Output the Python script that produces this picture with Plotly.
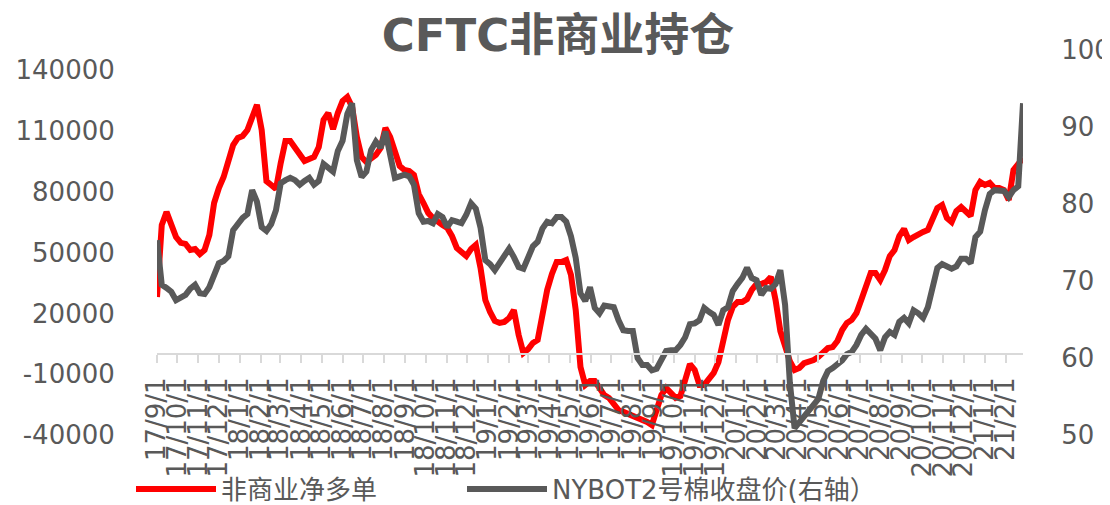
import pandas as pd
import plotly.graph_objects as go

# ---- data -------------------------------------------------------------
start_date = "2017-09-01"
n_weeks = 183
dates = pd.date_range(start_date, periods=n_weeks, freq="7D")

series_names = ["非商业净多单", "NYBOT2号棉收盘价(右轴）"]

net_long = [
    28100, 63600, 70100, 63600, 57700, 54800, 54300, 51300, 51800, 49300,
    51300, 58700, 74500, 81900, 87300, 95200, 103100, 106600, 107600, 110500,
    117400, 122900, 110500, 85300, 83400, 81400, 94200, 105100, 105100, 101600,
    97700, 95200, 96200, 97200, 102100, 115500, 118900, 111000, 118900, 124800,
    126800, 121900, 107100, 97200, 94700, 96200, 98200, 101600, 111500, 107100,
    100600, 92800, 90800, 90300, 88300, 78900, 74500, 69600, 67100, 65100,
    63600, 62200, 58200, 52300, 49800, 48300, 51800, 53800, 42400, 26600,
    20700, 16300, 15300, 15800, 17700, 21700, 9400, 500, 2400, 5400,
    6900, 21200, 31600, 39500, 45400, 45400, 46400, 39000, 21700, -6400,
    -15300, -13400, -13400, -16800, -20300, -21700, -24200, -27700, -28600, -29600,
    -30100, -31600, -32600, -33600, -35100, -27700, -20300, -16800, -18800, -21700,
    -20800, -11900, -5000, -7900, -15300, -15300, -11900, -9400, -4000, 5900,
    16800, 23200, 25600, 25600, 27100, 31600, 34500, 34500, 35500, 38000,
    26600, 11300, 2900, -3500, -7900, -6900, -4500, -4000, -3000, -1500,
    1000, 2900, 3400, 6400, 11800, 15300, 16800, 20200, 26600, 34000,
    39900, 39900, 36500, 41400, 48300, 51300, 58200, 61700, 56200, 57700,
    59200, 60200, 61200, 66100, 72000, 73500, 67100, 65100, 70500, 72500,
    70500, 68100, 80900, 84900, 83400, 84400, 81900, 81900, 80900, 76000,
    90800, 94200, 96700,
]

cotton_price = [
    75.3, 69.5, 69.1, 68.6, 67.5, 67.9, 68.2, 69.0, 69.5, 68.4,
    68.3, 69.2, 71.0, 72.3, 72.6, 73.2, 76.6, 77.5, 78.2, 78.7,
    81.8, 80.3, 77.0, 76.5, 77.4, 79.2, 82.7, 83.1, 83.4, 83.1,
    82.5, 83.0, 83.4, 82.5, 83.0, 85.2, 84.8, 84.2, 86.9, 88.2,
    91.7, 93.1, 85.7, 83.5, 84.2, 87.0, 88.1, 87.3, 89.4, 86.0,
    83.4, 83.6, 83.8, 83.6, 82.5, 78.8, 77.7, 77.8, 77.5, 78.7,
    78.3, 77.0, 77.9, 77.7, 77.5, 78.6, 80.1, 79.4, 76.9, 72.7,
    72.2, 71.4, 72.3, 73.5, 74.2, 73.1, 71.8, 71.6, 72.9, 74.5,
    75.1, 76.8, 77.7, 77.5, 78.3, 78.3, 77.7, 75.8, 73.0, 68.4,
    67.4, 69.2, 66.5, 65.8, 66.8, 66.6, 66.6, 64.9, 63.6, 63.5,
    63.5, 60.0, 59.1, 59.1, 58.4, 58.6, 59.7, 60.9, 61.0, 61.0,
    61.7, 62.7, 64.4, 64.5, 64.9, 66.5, 66.0, 65.6, 64.3, 66.2,
    66.6, 68.7, 69.6, 70.4, 71.7, 70.4, 70.1, 68.2, 69.1, 69.0,
    69.6, 71.4, 66.9, 56.8, 50.9, 51.7, 52.5, 53.0, 53.8, 54.7,
    57.0, 58.3, 58.7, 59.1, 59.7, 60.5, 60.8, 61.7, 63.0, 63.8,
    63.1, 62.5, 61.0, 62.7, 63.4, 63.0, 64.7, 65.2, 64.5, 66.2,
    65.8, 65.2, 66.6, 69.0, 71.7, 72.2, 71.9, 71.6, 71.9, 72.9,
    72.9, 72.3, 75.7, 76.4, 79.2, 81.3, 81.8, 81.8, 81.7, 80.9,
    81.8, 82.3, 93.1,
]

left_tickvals = [-40000, -10000, 20000, 50000, 80000, 110000, 140000]
left_ticktext = ["-40000", "-10000", "20000", "50000", "80000", "110000", "140000"]
right_tickvals = [50, 60, 70, 80, 90, 100]
right_ticktext = ["50", "60", "70", "80", "90", "100"]
left_range = [-40000, 150000]
right_range = [50, 100]

# ---- styling ----------------------------------------------------------
TXT = "#595959"
FONT = "DejaVu Sans, Noto Sans CJK SC, sans-serif"
W, H = 1102, 497   # page body has an 8px margin inside the 1110x505 window

fig = go.Figure()
fig.add_trace(go.Scatter(
    x=dates, y=net_long, name=series_names[0], mode="lines",
    line=dict(color="#FF0000", width=6), yaxis="y", legend="legend",
))
fig.add_trace(go.Scatter(
    x=dates, y=cotton_price, name=series_names[1], mode="lines",
    line=dict(color="#595959", width=6), yaxis="y2", legend="legend2",
))

zero_pos = (0 - left_range[0]) / (left_range[1] - left_range[0])

legend_common = dict(
    orientation="h", xref="container", yref="container",
    xanchor="left", y=1 - 481 / H, yanchor="middle",
    font=dict(family=FONT, size=26, color=TXT),
    itemwidth=80, bgcolor="rgba(0,0,0,0)",
)

fig.update_layout(
    width=W, height=H,
    margin=dict(l=149, r=87, t=42, b=70, autoexpand=False),
    paper_bgcolor="white", plot_bgcolor="white",
    title=dict(
        text="<b>CFTC非商业持仓</b>", x=550 / W, xanchor="center",
        y=1 - 27 / H, yanchor="middle",
        font=dict(family=FONT, size=45, color=TXT),
    ),
    font=dict(family=FONT, color=TXT),
    showlegend=True,
    legend=dict(x=123 / W, **legend_common),
    legend2=dict(x=454 / W, **legend_common),
    xaxis=dict(
        type="date", range=[dates[0], dates[-1]], automargin=False,
        anchor="free", position=zero_pos, side="bottom",
        showgrid=False, zeroline=False,
        showline=True, linecolor="#D9D9D9", linewidth=2,
        ticks="outside", ticklen=8, tickwidth=2, tickcolor="#D9D9D9",
        tick0=start_date, dtick="M1", tickformat="%y/%-m/%-d",
        tickangle=-90, tickfont=dict(family=FONT, size=26, color=TXT),
        ticklabelstandoff=4,
    ),
    yaxis=dict(
        range=left_range, tickmode="array", automargin=False,
        tickvals=left_tickvals, ticktext=left_ticktext,
        showgrid=False, zeroline=False, showline=False,
        ticks="outside", ticklen=36, tickcolor="rgba(0,0,0,0)",
        tickfont=dict(family=FONT, size=26, color=TXT),
    ),
    yaxis2=dict(
        range=right_range, overlaying="y", side="right", tickmode="array",
        tickvals=right_tickvals, ticktext=right_ticktext, automargin=False,
        showgrid=False, zeroline=False, showline=False,
        ticks="outside", ticklen=32, tickcolor="rgba(0,0,0,0)",
        tickfont=dict(family=FONT, size=26, color=TXT),
    ),
)

fig.write_html("out.html")
